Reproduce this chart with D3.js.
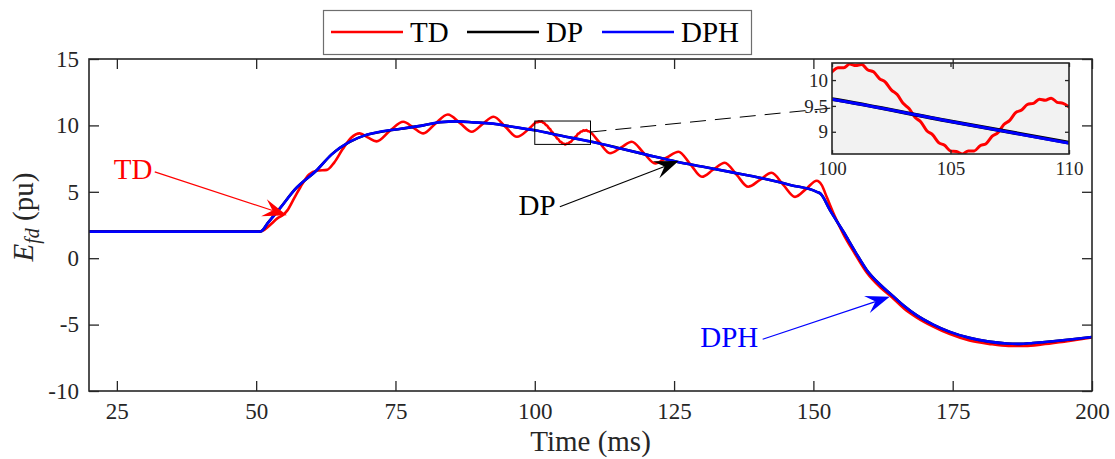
<!DOCTYPE html>
<html lang="en">
<head>
  <meta charset="UTF-8" />
  <title>Efd – TD / DP / DPH</title>
  <script src="https://d3js.org/d3.v7.min.js"></script>
  <style>
    body { margin: 0; background: white; }
    svg { display: block; font-family: "Liberation Serif", "Times New Roman", serif; }
    .tick text { fill: #262626; }
    .tick line { stroke: #262626; stroke-width: 1.3px; }
  </style>
</head>
<body>
  <svg id="chart"></svg>

  <script>
    // ---- data ----
    const seriesNames = ["TD", "DP", "DPH"];
    const seriesColors = ["#ff0000", "#000000", "#0000ff"];

    const xTicks = [25, 50, 75, 100, 125, 150, 175, 200];
    const yTicks = [-10, -5, 0, 5, 10, 15];
    const insetXTicks = [100, 105, 110];
    const insetYTicks = [9, 9.5, 10];
    const insetXRange = [100, 110];
    const insetYRange = [8.57, 10.33];

    const tdTime = [20, 50, 51, 52.5, 53.8, 54.8, 55.6, 56.8, 58, 59.5, 61, 62.7, 64, 65.5, 67, 68.6, 70, 71.6, 74, 76.4,
      78.2, 80, 82.1, 84.4, 86.6, 88.7, 90.6, 92.6, 94.7, 96.8, 98.9,
      100, 100.25, 100.5, 100.75, 101, 101.25, 101.5, 101.75, 102, 102.25, 102.5, 102.75, 103, 103.25, 103.5, 103.75,
      104, 104.25, 104.5, 104.75, 105, 105.25, 105.5, 105.75, 106, 106.25, 106.5, 106.75, 107, 107.25, 107.5, 107.75,
      108, 108.25, 108.5, 108.75, 109, 109.25, 109.5, 109.75, 110,
      111.5, 113.5, 115.5, 117.4, 119.5, 121.6, 123.7, 125.8, 127.9, 130, 132, 134.1, 136.2, 138.3, 140.4, 142.5,
      144.6, 146.7, 148.7, 150.6, 151.5, 152.4, 153.8, 155.4, 157.5, 159.6, 162, 164.1, 166.3, 168.5, 171.5, 174.5,
      178, 181.5, 185, 188, 191, 195, 200];
    const tdValue = [2, 2, 2.05, 2.5, 3.0, 3.25, 3.6, 4.5, 5.4, 6.3, 6.6, 6.65, 7.2, 8.2, 9.05, 9.4, 9.1, 8.8, 9.6, 10.27,
      9.84, 9.4, 10.11, 10.82, 10.17, 9.52, 10.09, 10.65, 9.9, 9.14, 9.72,
      10.16, 10.24, 10.24, 10.31, 10.28, 10.30, 10.20, 10.16, 10.03, 9.96, 9.81, 9.72, 9.55, 9.45, 9.28, 9.19,
      9.02, 8.94, 8.79, 8.74, 8.63, 8.62, 8.57, 8.63, 8.63, 8.73, 8.77, 8.91, 8.98, 9.14, 9.22, 9.37,
      9.42, 9.53, 9.55, 9.63, 9.61, 9.65, 9.57, 9.55, 9.48,
      8.77, 7.9, 8.34, 8.77, 7.95, 7.14, 7.58, 8.02, 7.08, 6.13, 6.66, 7.19, 6.29, 5.38, 5.9, 6.43,
      5.52, 4.62, 5.22, 5.83, 5.5, 4.6, 3.2, 1.8, 0.3, -1.1, -2.2, -2.95, -3.8, -4.45, -5.15, -5.72,
      -6.2, -6.45, -6.6, -6.6, -6.5, -6.28, -5.97];

    const dpTime = [20, 50.5, 51, 52, 54.3, 57, 60.9, 63.5, 66.8, 69.5, 72.2, 76, 80, 83, 86, 89, 92, 96, 100, 105, 110,
      115, 120, 125.5, 130, 135, 141, 146, 150.6, 151.3, 153, 155.4, 157.5, 159.6, 162, 164.1, 166.3, 168.5, 171.5,
      174.5, 178, 181.5, 184.7, 187, 189.4, 193, 196.5, 200];
    const dpValue = [2, 2, 2.05, 2.6, 3.78, 5.2, 6.63, 7.8, 8.76, 9.25, 9.51, 9.75, 10.0, 10.24, 10.3, 10.23, 10.14, 9.9,
      9.63, 9.2, 8.79, 8.3, 7.8, 7.26, 6.9, 6.5, 6.0, 5.5, 5.0, 4.85, 3.6, 1.99, 0.5, -0.9, -2.0, -2.78, -3.6, -4.29,
      -5.0, -5.55, -6.0, -6.28, -6.42, -6.45, -6.38, -6.25, -6.1, -5.93];

    const dphTime = [20, 50.5, 51, 52, 54.3, 57, 60.9, 63.5, 66.8, 69.5, 72.2, 76, 80, 83, 86, 89, 92, 96, 100, 105, 110,
      115, 120, 125.5, 130, 135, 141, 146, 150.6, 151.3, 153, 155.4, 157.5, 159.6, 162, 164.1, 166.3, 168.5, 171.5,
      174.5, 178, 181.5, 184.7, 187, 189.4, 193, 196.5, 200];
    const dphValue = [2, 2, 2.05, 2.6, 3.77, 5.2, 6.64, 7.8, 8.77, 9.25, 9.52, 9.75, 10.0, 10.25, 10.3, 10.23, 10.15, 9.9,
      9.63, 9.2, 8.78, 8.3, 7.8, 7.26, 6.9, 6.5, 6.0, 5.5, 5.0, 4.85, 3.6, 1.99, 0.5, -0.9, -2.0, -2.78, -3.6, -4.29,
      -5.0, -5.55, -6.0, -6.28, -6.42, -6.45, -6.38, -6.25, -6.1, -5.93];

    // ---- layout ----
    const width = 1115, height = 459;
    const svg = d3.select("#chart").attr("width", width).attr("height", height);
    const axisColor = "#262626";
    const plainNum = d => String(d);

    const x = d3.scaleLinear().domain([20, 200]).range([89, 1092]);
    const y = d3.scaleLinear().domain([-10, 15]).range([391, 59]);
    const ix = d3.scaleLinear().domain(insetXRange).range([832, 1069]);
    const iy = d3.scaleLinear().domain(insetYRange).range([154, 63]);

    const series = [
      { name: seriesNames[0], color: seriesColors[0], pts: tdTime.map((t, i) => [t, tdValue[i]]) },
      { name: seriesNames[1], color: seriesColors[1], pts: dpTime.map((t, i) => [t, dpValue[i]]) },
      { name: seriesNames[2], color: seriesColors[2], pts: dphTime.map((t, i) => [t, dphValue[i]]) }
    ];

    const defs = svg.append("defs");
    defs.append("clipPath").attr("id", "mainClip").append("rect")
      .attr("x", x.range()[0]).attr("y", y.range()[1])
      .attr("width", x.range()[1] - x.range()[0]).attr("height", y.range()[0] - y.range()[1]);
    defs.append("clipPath").attr("id", "insetClip").append("rect")
      .attr("x", ix.range()[0]).attr("y", iy.range()[1])
      .attr("width", ix.range()[1] - ix.range()[0]).attr("height", iy.range()[0] - iy.range()[1]);

    // ---- main lines ----
    const mainLine = d3.line().x(d => x(d[0])).y(d => y(d[1])).curve(d3.curveMonotoneX);
    svg.append("g").attr("clip-path", "url(#mainClip)")
      .selectAll("path").data(series).enter().append("path")
      .attr("d", d => mainLine(d.pts))
      .attr("fill", "none")
      .attr("stroke", d => d.color)
      .attr("stroke-width", 2.6)
      .attr("stroke-linejoin", "round");

    // ---- main axes (ticks inward, box on) ----
    function styleAxis(g, size) {
      g.select(".domain").remove();
      g.selectAll("text").attr("font-size", size).attr("font-family", "Liberation Serif, serif");
    }
    svg.append("g").attr("transform", `translate(0,${y.range()[0]})`)
      .call(d3.axisBottom(x).tickValues(xTicks).tickFormat(plainNum).tickSize(-10).tickSizeOuter(0).tickPadding(12))
      .call(g => styleAxis(g, 23));
    svg.append("g").attr("transform", `translate(${x.range()[0]},0)`)
      .call(d3.axisLeft(y).tickValues(yTicks).tickFormat(plainNum).tickSize(-10).tickSizeOuter(0).tickPadding(10))
      .call(g => styleAxis(g, 23));
    svg.append("g").attr("transform", `translate(${x.range()[1]},0)`)
      .call(d3.axisRight(y).tickValues(yTicks).tickSize(-10).tickSizeOuter(0).tickFormat(""))
      .call(g => styleAxis(g, 23));
    svg.append("rect")
      .attr("x", x.range()[0]).attr("y", y.range()[1])
      .attr("width", x.range()[1] - x.range()[0]).attr("height", y.range()[0] - y.range()[1])
      .attr("fill", "none").attr("stroke", axisColor).attr("stroke-width", 1.6);

    svg.append("text")
      .attr("x", (x.range()[0] + x.range()[1]) / 2).attr("y", 451)
      .attr("text-anchor", "middle").attr("font-size", 29).attr("fill", axisColor)
      .text("Time (ms)");

    const ylab = svg.append("text")
      .attr("transform", "translate(33,217) rotate(-90)")
      .attr("text-anchor", "middle").attr("font-size", 29).attr("fill", axisColor);
    ylab.append("tspan").attr("font-style", "italic").text("E");
    ylab.append("tspan").attr("font-style", "italic").attr("font-size", 20).attr("dy", 6).text("fd");
    ylab.append("tspan").attr("dy", -6).text(" (pu)");

    // ---- zoom box + connector ----
    svg.append("rect")
      .attr("x", x(insetXRange[0])).attr("y", y(insetYRange[1]))
      .attr("width", x(insetXRange[1]) - x(insetXRange[0]))
      .attr("height", y(insetYRange[0]) - y(insetYRange[1]))
      .attr("fill", "none").attr("stroke", "#000").attr("stroke-width", 1);
    svg.append("line")
      .attr("x1", x(insetXRange[1])).attr("y1", y(9.5))
      .attr("x2", ix(insetXRange[0])).attr("y2", iy(9.46))
      .attr("stroke", "#000").attr("stroke-width", 1).attr("stroke-dasharray", "16 9");

    // ---- inset ----
    svg.append("rect")
      .attr("x", ix.range()[0]).attr("y", iy.range()[1])
      .attr("width", ix.range()[1] - ix.range()[0]).attr("height", iy.range()[0] - iy.range()[1])
      .attr("fill", "#f2f2f2");
    const insetLine = d3.line().x(d => ix(d[0])).y(d => iy(d[1])).curve(d3.curveMonotoneX);
    svg.append("g").attr("clip-path", "url(#insetClip)")
      .selectAll("path").data(series).enter().append("path")
      .attr("d", d => insetLine(d.pts.filter(p => p[0] >= 96 && p[0] <= 114)))
      .attr("fill", "none")
      .attr("stroke", d => d.color)
      .attr("stroke-width", (d, i) => i === 1 ? 3.8 : 3)
      .attr("stroke-linejoin", "round");

    svg.append("g").attr("transform", `translate(0,${iy.range()[0]})`)
      .call(d3.axisBottom(ix).tickValues(insetXTicks).tickFormat(plainNum).tickSize(-4).tickSizeOuter(0).tickPadding(8))
      .call(g => styleAxis(g, 19));
    svg.append("g").attr("transform", `translate(0,${iy.range()[1]})`)
      .call(d3.axisTop(ix).tickValues(insetXTicks).tickSize(-4).tickSizeOuter(0).tickFormat(""))
      .call(g => styleAxis(g, 19));
    svg.append("g").attr("transform", `translate(${ix.range()[0]},0)`)
      .call(d3.axisLeft(iy).tickValues(insetYTicks).tickFormat(plainNum).tickSize(-4).tickSizeOuter(0).tickPadding(4))
      .call(g => styleAxis(g, 19));
    svg.append("g").attr("transform", `translate(${ix.range()[1]},0)`)
      .call(d3.axisRight(iy).tickValues(insetYTicks).tickSize(-4).tickSizeOuter(0).tickFormat(""))
      .call(g => styleAxis(g, 19));
    svg.append("rect")
      .attr("x", ix.range()[0]).attr("y", iy.range()[1])
      .attr("width", ix.range()[1] - ix.range()[0]).attr("height", iy.range()[0] - iy.range()[1])
      .attr("fill", "none").attr("stroke", axisColor).attr("stroke-width", 1.6);

    // main top ticks drawn last (they show over the inset in the original)
    svg.append("g").attr("transform", `translate(0,${y.range()[1]})`)
      .call(d3.axisTop(x).tickValues(xTicks).tickSize(-10).tickSizeOuter(0).tickFormat(""))
      .call(g => styleAxis(g, 23));

    // ---- annotations ----
    const notes = [
      { label: "TD", color: seriesColors[0], text: [27.9, 6.75], from: [31.8, 6.5], to: [55.5, 3.24] },
      { label: "DP", color: seriesColors[1], text: [100.4, 4.05], from: [104.5, 3.87], to: [125.8, 7.31] },
      { label: "DPH", color: seriesColors[2], text: [134.9, -5.95], from: [140.9, -6.1], to: [163.7, -2.91] }
    ];
    const headLen = 24, headHalf = 9, notch = 15;
    notes.forEach(n => {
      const x0 = x(n.from[0]), y0 = y(n.from[1]);
      const x1 = x(n.to[0]), y1 = y(n.to[1]);
      const ang = Math.atan2(y1 - y0, x1 - x0);
      svg.append("line")
        .attr("x1", x0).attr("y1", y0)
        .attr("x2", x1 - notch * Math.cos(ang)).attr("y2", y1 - notch * Math.sin(ang))
        .attr("stroke", n.color).attr("stroke-width", 1.2);
      svg.append("path")
        .attr("d", `M0,0 L${-headLen},${-headHalf} L${-notch},0 L${-headLen},${headHalf} Z`)
        .attr("transform", `translate(${x1},${y1}) rotate(${ang * 180 / Math.PI})`)
        .attr("fill", n.color);
      svg.append("text")
        .attr("x", x(n.text[0])).attr("y", y(n.text[1]))
        .attr("dy", "0.35em")
        .attr("text-anchor", "middle").attr("font-size", 29).attr("fill", n.color)
        .text(n.label);
    });

    // ---- legend ----
    const legend = svg.append("g");
    legend.append("rect")
      .attr("x", 323.5).attr("y", 10.5).attr("width", 428).attr("height", 44)
      .attr("fill", "white").attr("stroke", "#6e6e6e").attr("stroke-width", 1.2);
    const legendX = [331, 467, 602];
    series.forEach((s, i) => {
      legend.append("line")
        .attr("x1", legendX[i]).attr("x2", legendX[i] + 72)
        .attr("y1", 32).attr("y2", 32)
        .attr("stroke", s.color).attr("stroke-width", 2.6);
      legend.append("text")
        .attr("x", legendX[i] + 79).attr("y", 42)
        .attr("font-size", 29).attr("fill", "#000")
        .text(s.name);
    });
  </script>
</body>
</html>
